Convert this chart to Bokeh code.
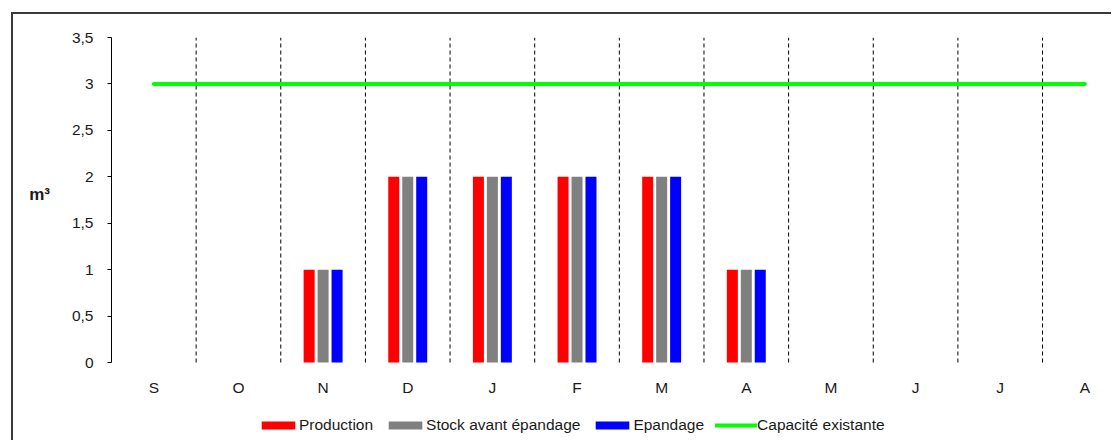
from bokeh.plotting import figure
from bokeh.models import Range1d, FixedTicker, Legend, LegendItem
from bokeh.embed import file_html
from bokeh.resources import INLINE

months = ["S", "O", "N", "D", "J", "F", "M", "A", "M", "J", "J", "A"]
production = [0, 0, 1, 2, 2, 2, 2, 1, 0, 0, 0, 0]
stock = [0, 0, 1, 2, 2, 2, 2, 1, 0, 0, 0, 0]
epandage = [0, 0, 1, 2, 2, 2, 2, 1, 0, 0, 0, 0]
capacite = [3, 3, 3, 3, 3, 3, 3, 3, 3, 3, 3, 3]
y_ticks = [0, 0.5, 1, 1.5, 2, 2.5, 3, 3.5]

FONT = "Liberation Sans"
FS = "15.5px"
TXT = "#1a1a1a"
idx = list(range(len(months)))

# canvas placed at page (13, 14) by margin + border
W, H = 1100, 428
MBL, MBT = 98, 23
PX_X = 84.64            # px per month
PX_Y = 325 / 3.5        # px per m3
frame_w = W - MBL
frame_h = H - MBT
x_end = -0.5 + frame_w / PX_X
y_start = 3.5 - frame_h / PX_Y

p = figure(width=W, height=H, output_backend="svg", toolbar_location=None,
           x_range=Range1d(-0.5, x_end), y_range=Range1d(y_start, 3.5),
           min_border_left=MBL, min_border_right=0, min_border_top=MBT,
           min_border_bottom=0)
p.margin = (12, 0, 0, 11)
p.styles = {"border-left": "2px solid #3a3a3a", "border-top": "2px solid #3a3a3a"}
p.outline_line_color = None
p.xgrid.grid_line_color = None
p.ygrid.grid_line_color = None

# dashed separators between months
bounds = [i + 0.5 for i in idx[:-1]]
p.segment(x0=bounds, x1=bounds, y0=[0] * len(bounds), y1=[3.5] * len(bounds),
          line_color="black", line_width=1, line_dash="4 3")

w = 0.13
off = 0.165
r1 = p.vbar(x=[i - off for i in idx], top=production, width=w, fill_color="#ff0000", line_color=None)
r2 = p.vbar(x=idx, top=stock, width=w, fill_color="#808080", line_color=None)
r3 = p.vbar(x=[i + off for i in idx], top=epandage, width=w, fill_color="#0000ff", line_color=None)
r4 = p.line(x=idx, y=capacite, line_color="#00ff00", line_width=4, line_cap="round")

# axes
ya = p.yaxis[0]
ya.ticker = FixedTicker(ticks=y_ticks)
ya.bounds = (0, 3.5)
ya.major_label_overrides = {t: (str(t).replace(".", ",") if t != int(t) else str(int(t))) for t in y_ticks}
ya.major_label_text_font = FONT
ya.major_label_text_font_size = FS
ya.major_label_text_color = TXT
ya.axis_line_color = "black"
ya.major_tick_line_color = "black"
ya.major_tick_out = 4
ya.major_tick_in = 0
ya.minor_tick_line_color = None
ya.major_label_standoff = 14
# label lifted to the middle of the 0..3.5 span with trailing blank lines
ya.axis_label = "m³\n\n\n\n"
ya.axis_label_text_font = FONT
ya.axis_label_text_font_style = "bold"
ya.axis_label_text_font_size = "17px"
ya.axis_label_text_line_height = 1.2
ya.axis_label_text_color = TXT
ya.axis_label_orientation = "horizontal"
ya.axis_label_standoff = 19

xa = p.xaxis[0]
xa.fixed_location = 0
xa.ticker = FixedTicker(ticks=idx)
xa.major_label_overrides = {i: m for i, m in zip(idx, months)}
xa.major_label_text_font = FONT
xa.major_label_text_font_size = FS
xa.major_label_text_color = TXT
xa.axis_line_color = None
xa.major_tick_line_color = None
xa.major_tick_out = 0
xa.minor_tick_line_color = None
xa.major_label_standoff = 16

legend = Legend(items=[
    LegendItem(label="Production", renderers=[r1]),
    LegendItem(label="Stock avant épandage", renderers=[r2]),
    LegendItem(label="Epandage", renderers=[r3]),
    LegendItem(label="Capacité existante", renderers=[r4]),
], orientation="horizontal", location=(146, 8))
legend.border_line_color = None
legend.background_fill_alpha = 0
legend.padding = 0
legend.margin = 0
legend.spacing = 11
legend.glyph_width = 42
legend.glyph_height = 10
legend.label_height = 14
legend.label_standoff = -2
legend.label_text_font = FONT
legend.label_text_font_size = FS
legend.label_text_color = TXT
p.add_layout(legend, "center")

open("out.html", "w").write(file_html(p, INLINE))
